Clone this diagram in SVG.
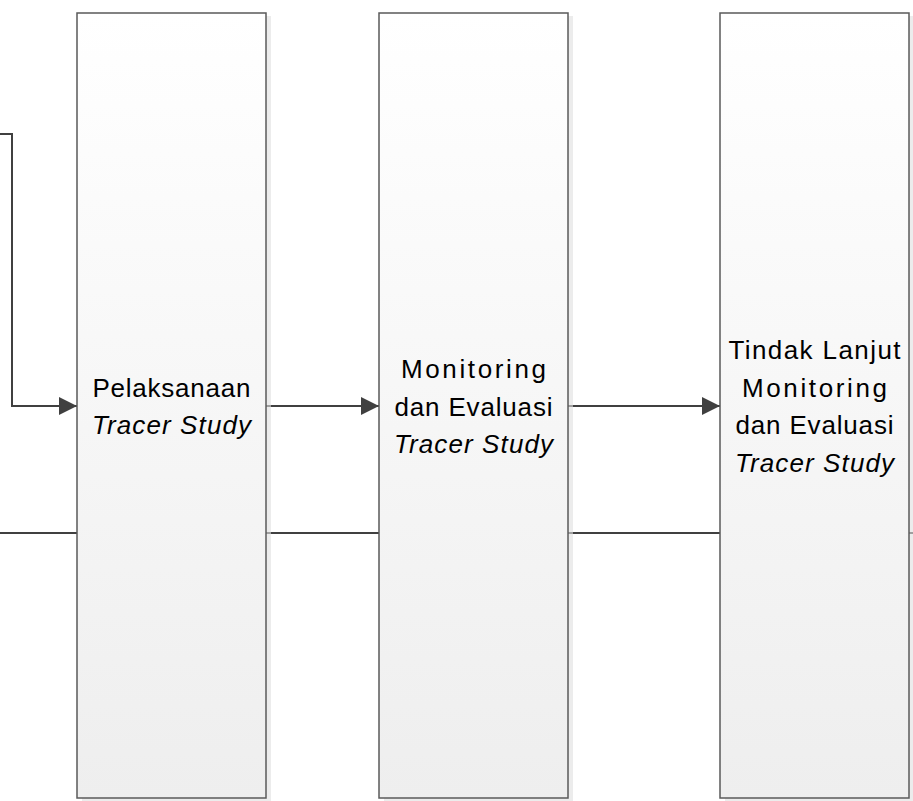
<svg xmlns="http://www.w3.org/2000/svg" width="913" height="801" viewBox="0 0 913 801">
<style>
.box{fill:url(#g);stroke:#5a5a5a;stroke-width:1.5}
.sh{fill:#e0e0e0;fill-opacity:0.6}
.c{fill:none;stroke:#404040;stroke-width:2}
.t{font-family:"Liberation Sans",Arial,sans-serif;font-size:26px;fill:#000;text-anchor:middle}
.i{font-style:italic}
</style>
<defs>
<linearGradient id="g" x1="0" y1="0" x2="0" y2="1">
<stop offset="0" stop-color="#ffffff"/>
<stop offset="1" stop-color="#eeeeee"/>
</linearGradient>
<marker id="a" markerWidth="18" markerHeight="18" viewBox="0 0 18 18" refX="18" refY="9" orient="auto" markerUnits="userSpaceOnUse">
<path d="M0,0 L18,9 L0,18 Z" fill="#404040"/>
</marker>
</defs>
<rect width="913" height="801" fill="#fff"/>
<g id="connectors">
<line class="c" x1="0" y1="533" x2="913" y2="533"/>
<polyline class="c" points="0,134 12,134 12,406 77,406" marker-end="url(#a)"/>
<line class="c" x1="266" y1="406" x2="379" y2="406" marker-end="url(#a)"/>
<line class="c" x1="568" y1="406" x2="720" y2="406" marker-end="url(#a)"/>
</g>
<g id="node1">
<rect class="sh" x="82" y="16" width="189" height="785"/>
<rect class="box" x="77" y="13" width="189" height="785"/>
<text class="t" x="171.5" y="397" textLength="158" lengthAdjust="spacing">Pelaksanaan</text>
<text class="t i" x="171.5" y="434" textLength="159" lengthAdjust="spacing">Tracer Study</text>
</g>
<g id="node2">
<rect class="sh" x="384" y="16" width="189" height="785"/>
<rect class="box" x="379" y="13" width="189" height="785"/>
<text class="t" x="473.5" y="378" textLength="145" lengthAdjust="spacing">Monitoring</text>
<text class="t" x="473.5" y="415.5" textLength="158" lengthAdjust="spacing">dan Evaluasi</text>
<text class="t i" x="473.5" y="453" textLength="159" lengthAdjust="spacing">Tracer Study</text>
</g>
<g id="node3">
<rect class="sh" x="725" y="16" width="189" height="785"/>
<rect class="box" x="720" y="13" width="189" height="785"/>
<text class="t" x="814.5" y="359" textLength="172" lengthAdjust="spacing">Tindak Lanjut</text>
<text class="t" x="814.5" y="397" textLength="145" lengthAdjust="spacing">Monitoring</text>
<text class="t" x="814.5" y="434" textLength="158" lengthAdjust="spacing">dan Evaluasi</text>
<text class="t i" x="814.5" y="472" textLength="159" lengthAdjust="spacing">Tracer Study</text>
</g>
</svg>
